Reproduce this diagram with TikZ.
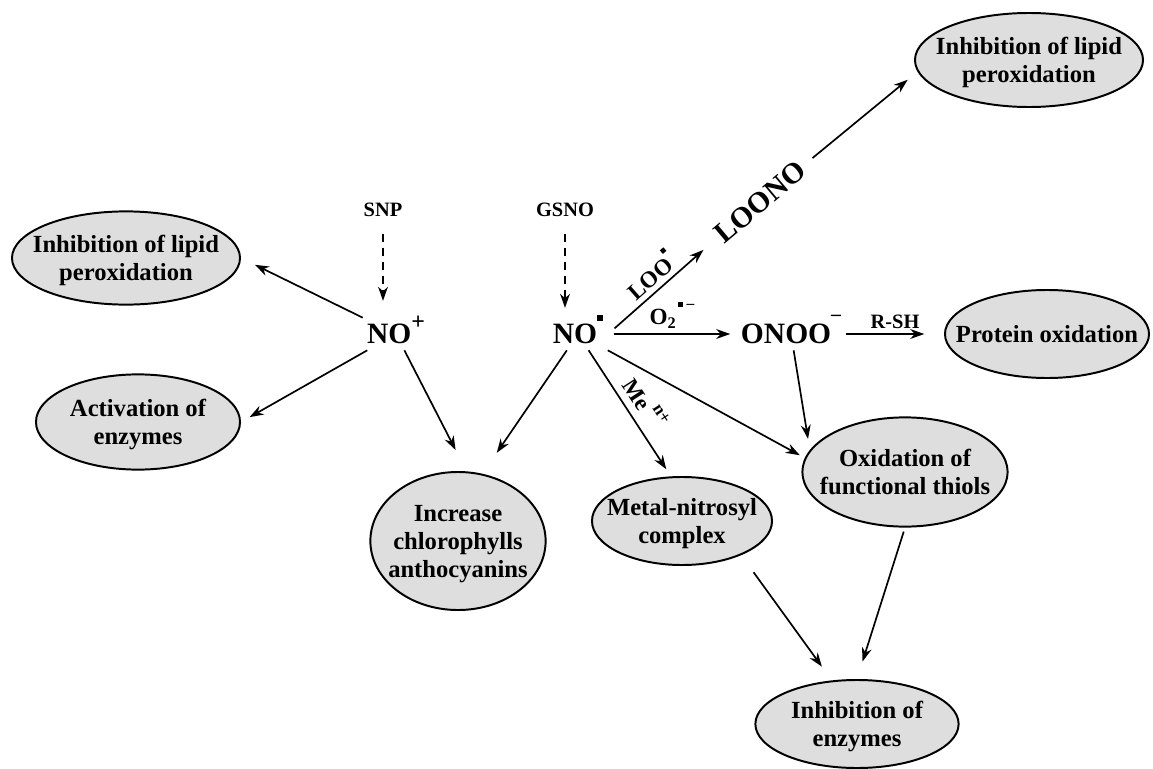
\documentclass[tikz,border=0pt]{standalone}
\usepackage{fontspec}
\setmainfont{Liberation Serif}
\usetikzlibrary{arrows.meta,shapes.geometric}

\definecolor{bubgray}{HTML}{DEDEDE}
\newcommand{\rad}{\raisebox{0.78em}{\rule{0.2em}{0.2em}}}
\newcommand{\bub}[1]{\smash{\makebox[0pt]{\raisebox{-0.37em}{\begin{tabular}{@{}c@{}}#1\end{tabular}}}}}

\begin{document}
\begin{tikzpicture}[x=0.025cm,y=-0.025cm,>={Stealth[length=10pt,width=7pt]},line width=1.2pt,
	bubble/.style={ellipse,draw,line width=1.4pt,fill=bubgray,inner sep=0pt,
		font=\fontsize{17.5}{20}\selectfont\bfseries},
	species/.style={inner sep=3pt,text height=15pt,text depth=1pt,font=\fontsize{21}{24}\selectfont\bfseries},
	donor/.style={font=\fontsize{14.5}{17}\selectfont\bfseries},
	lbl/.style={font=\fontsize{16.5}{19}\selectfont\bfseries}]

\useasboundingbox (0,0) rectangle (1153,769);

\node[donor]   (snp)  at (383,210)  {SNP};
\node[donor]   (gsno) at (565,210)  {GSNO};
\node[species] (noplus) at (396,334) {NO\raisebox{0.5em}{\fontsize{17}{17}\selectfont +}};
\node[species] (norad)  at (578,334) {NO\rad};
\node[species] (onoo)   at (791,334) {ONOO\raisebox{0.8em}{\fontsize{14}{14}\selectfont --}};
\node[species,rotate=40] (loono) at (760,202) {LOONO};

\node[bubble,minimum width=5.7cm,minimum height=2.33cm]  (lipidL)  at (126,258)  {\bub{Inhibition of lipid\\peroxidation}};
\node[bubble,minimum width=5.1cm,minimum height=2.38cm]  (activ)   at (138,422)  {\bub{Activation of\\enzymes}};
\node[bubble,minimum width=5.7cm,minimum height=2.35cm]  (lipidT)  at (1029,60)  {\bub{Inhibition of lipid\\peroxidation}};
\node[bubble,minimum width=5.1cm,minimum height=2.2cm]   (protein) at (1047,334) {\bub{Protein oxidation}};
\node[bubble,minimum width=4.38cm,minimum height=3.45cm] (incr)    at (458,541)  {\bub{Increase\\chlorophylls\\anthocyanins}};
\node[bubble,minimum width=4.5cm,minimum height=2.2cm]   (metal)   at (682,521)  {\bub{Metal-nitrosyl\\complex}};
\node[bubble,minimum width=5.13cm,minimum height=2.73cm] (oxid)    at (905,472)  {\bub{Oxidation of\\functional thiols}};
\node[bubble,minimum width=5.08cm,minimum height=2.2cm]  (inhibE)  at (857,724)  {\bub{Inhibition of\\enzymes}};

% donors
\path[->,dash pattern=on 6pt off 4pt]
	(snp)  edge[shorten <=8pt,shorten >=12pt] (snp |- noplus.north)
	(gsno) edge[shorten <=8pt,shorten >=7pt]  (gsno |- norad.north);

\path[->]
	(noplus) edge[shorten >=11pt] (lipidL.east)
	         edge[shorten >=7pt]  (activ.east)
	         edge[shorten >=17pt] (incr.83)
	(norad)  edge[shorten >=18pt] (incr.70)
	         edge[shorten >=6pt] node[lbl,above=2pt,sloped,pos=0.5] {Me\raisebox{0.55em}{\kern3pt\fontsize{12.5}{13}\selectfont n+}} (metal.104)
	         edge[shorten >=4pt] (oxid.172)
	         edge[shorten <=4pt,shorten >=4pt] node[lbl,above] {O\textsubscript{2}\kern1pt\rad\kern3pt\raisebox{0.7em}{\fontsize{11}{11}\selectfont --}} (onoo)
	(norad.east) edge[shorten <=6pt,shorten >=10pt] node[lbl,above,sloped] {LOO\rad} (loono.west)
	(loono.east) edge[shorten <=6pt,shorten >=9pt] (lipidT.186)
	(onoo)   edge[shorten >=14pt] node[donor,above] {R-SH} (protein)
	         edge[shorten >=8pt] (oxid.167)
	(metal.-30)  edge[shorten <=15pt,shorten >=12pt] (inhibE.120)
	(oxid.south) edge[shorten <=3pt,shorten >=13pt] (inhibE.north);

\end{tikzpicture}
\end{document}
